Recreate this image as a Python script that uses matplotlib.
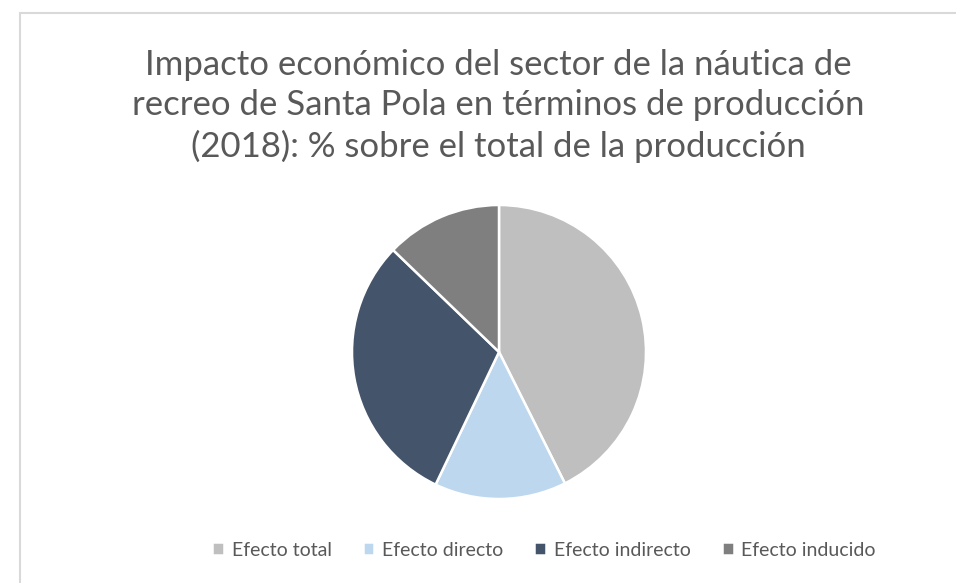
import matplotlib
matplotlib.use("Agg")
import matplotlib.pyplot as plt
from matplotlib.patches import Rectangle

# Datos (% sobre el total de la producción)
labels = ["Efecto total", "Efecto directo", "Efecto indirecto", "Efecto inducido"]
values = [42.6, 14.5, 30.1, 12.8]
colors = ["#bfbfbf", "#bdd7ee", "#44546a", "#7f7f7f"]

title = ("Impacto económico del sector de la náutica de\n"
         "recreo de Santa Pola en términos de producción\n"
         "(2018): % sobre el total de la producción")

W, H = 956, 583
fig = plt.figure(figsize=(W / 100, H / 100), dpi=100)
fig.patch.set_facecolor("white")
plt.rcParams["font.family"] = ["Lato", "DejaVu Sans"]

# marco del gráfico
fig.add_artist(Rectangle((20 / W, -0.01), 1.0, (H - 13) / H + 0.01,
                         transform=fig.transFigure, fill=False,
                         edgecolor="#d9d9d9", linewidth=1.5))

cx, cy, r = 499, 352, 147
ax = fig.add_axes([(cx - r) / W, (H - cy - r) / H, 2 * r / W, 2 * r / H])
wedges, _ = ax.pie(values, colors=colors, startangle=90, counterclock=False,
                   radius=1.0, wedgeprops={"edgecolor": "white", "linewidth": 1.8})
ax.set_xlim(-1, 1)
ax.set_ylim(-1, 1)
ax.axis("off")

fig.text(498 / W, 1 - 106 / H, title, ha="center", va="center",
         fontsize=25, color="#595959", linespacing=1.33)

fig.legend(wedges, labels, loc="center", bbox_to_anchor=(544 / W, 1 - 550 / H),
           ncol=4, frameon=False, fontsize=14, labelcolor="#595959",
           handlelength=0.6, handleheight=0.6, handletextpad=0.4,
           columnspacing=1.6)

fig.savefig("out.png", dpi=100, facecolor="white")
